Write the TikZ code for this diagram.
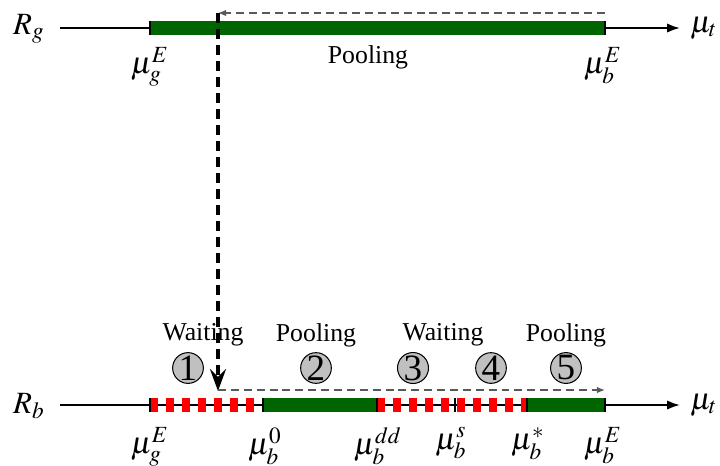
\documentclass[tikz,border=0pt]{standalone}
\usepackage{mathptmx}
\usepackage{fontspec}
\setmainfont{Liberation Serif}
\usetikzlibrary{arrows.meta}
\definecolor{pgreen}{RGB}{0,100,0}
\definecolor{cgray}{RGB}{192,192,192}
\begin{document}
\begin{tikzpicture}[x=0.388pt,y=-0.388pt,
  font=\normalsize,
  axis/.style={line width=0.75pt,-{Latex[length=5pt,width=3.6pt]}},
  greenbar/.style={line width=5.4pt,draw=pgreen},
  redbar/.style={line width=5.4pt,draw=red,dash pattern=on 3.1pt off 3.1pt},
  tickmark/.style={line width=0.4pt},
  mlabel/.style={font=\large},
  lbl/.style={anchor=north,inner sep=0pt,font=\large},
  phase/.style={inner sep=0pt},
  num/.style={circle,draw,fill=cgray,minimum size=10.8pt,inner sep=0pt,line width=0.4pt,font=\Large},
  thindash/.style={line width=0.55pt,dash pattern=on 3.1pt off 1.9pt,draw=black!65},
  thickdash/.style={line width=1.25pt,dash pattern=on 3.9pt off 2.3pt}]
\useasboundingbox (0,0) rectangle (720,465);
% ---------- top axis ----------
\node[mlabel] (Rg) at (29,29) {$R_g$};
\node[mlabel] (mtg) at (704,28) {$\mu_t$};
\coordinate (tstart) at (60,28);
\coordinate (tend) at (680,28);
\draw[axis] (tstart) -- (tend);
\coordinate (tge) at (150,28);
\coordinate (tbe) at (605,28);
\draw[greenbar] (tge) -- (tbe);
\foreach \p in {tge,tbe} \draw[tickmark] ([yshift=-2.7pt]\p) -- ([yshift=2.7pt]\p);
\node[lbl] (lgE) at (150,47) {$\mu_g^E$};
\node[lbl] (lbE) at (603,47) {$\mu_b^E$};
\node (pool0) at (368,57) {Pooling};
% ---------- bottom axis ----------
\node[mlabel] (Rb) at (29,406) {$R_b$};
\node[mlabel] (mtb) at (704,405) {$\mu_t$};
\coordinate (bstart) at (60,405);
\coordinate (bend) at (680,405);
\draw[axis] (bstart) -- (bend);
\coordinate (bge) at (150,405);
\coordinate (b0) at (263,405);
\coordinate (bdd) at (377,405);
\coordinate (bs) at (455,405);
\coordinate (bst) at (527,405);
\coordinate (bbe) at (605,405);
\draw[redbar] (bge) -- (b0);
\draw[greenbar] (b0) -- (bdd);
\draw[redbar] (bdd) -- (bst);
\draw[greenbar] (bst) -- (bbe);
\foreach \p in {bge,b0,bdd,bs,bst,bbe} \draw[tickmark] ([yshift=-2.7pt]\p) -- ([yshift=2.7pt]\p);
\node[lbl] (l1) at (150,427) {$\mu_g^E$};
\node[lbl] (l2) at (265,427) {$\mu_b^0$};
\node[lbl] (l3) at (378,427) {$\mu_b^{dd}$};
\node[lbl] (l4) at (451,427) {$\mu_b^s$};
\node[lbl] (l5) at (528,427) {$\mu_b^*$};
\node[lbl] (l6) at (603,427) {$\mu_b^E$};
% phases
\node[phase] (w1) at (203,335) {Waiting};
\node[phase] (p2) at (316,335) {Pooling};
\node[phase] (w3) at (443,335) {Waiting};
\node[phase] (p5) at (566,335) {Pooling};
\node[num] (n1) at (188,368) {1};
\node[num] (n2) at (316,368) {2};
\node[num] (n3) at (413,368) {3};
\node[num] (n4) at (491,368) {4};
\node[num] (n5) at (566,368) {5};
% ---------- dashed arrows ----------
\coordinate (dtr) at (605,13);
\coordinate (dtl) at (218,13);
\coordinate (dbl) at (218,391);
\coordinate (dbr) at (605,390);
\draw[thindash,-{Latex[length=3.2pt,width=2.6pt]}] (dtr) -- (dtl);
\draw[thickdash,-{Stealth[length=8.5pt,width=6.2pt,inset=3pt]}] (dtl) -- (dbl);
\draw[thindash,-{Latex[length=3.2pt,width=2.6pt]}] (218,390) -- (dbr);
\end{tikzpicture}
\end{document}
